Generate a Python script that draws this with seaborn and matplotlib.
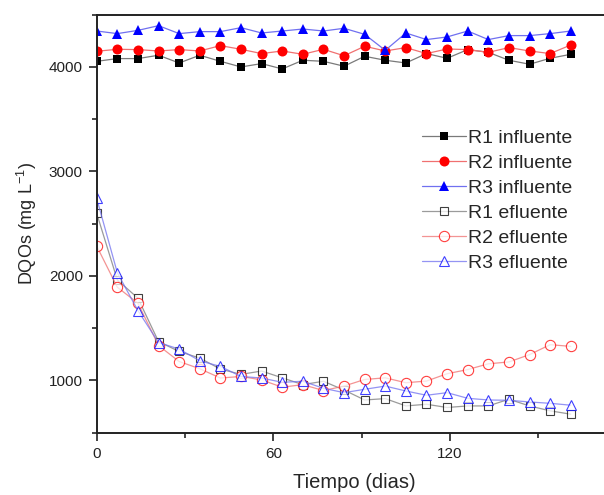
import matplotlib
matplotlib.use("Agg")
import matplotlib.pyplot as plt
from matplotlib.ticker import MultipleLocator
import numpy as np
import pandas as pd
import seaborn as sns

# Sampling days (weekly)
dias = [0, 7, 14, 21, 28, 35, 42, 49, 56, 63, 70, 77, 84, 91, 98, 105,
        112, 119, 126, 133, 140, 147, 154, 161]

# Influent COD (mg/L)
r1_influente = [4054, 4080, 4080, 4112, 4038, 4112, 4054, 4000, 4032, 3981, 4064, 4054,
                4007, 4102, 4064, 4038, 4128, 4083, 4166, 4140, 4064, 4026, 4083, 4121]
r2_influente = [4150, 4169, 4166, 4153, 4166, 4153, 4204, 4169, 4128, 4153, 4121, 4169,
                4107, 4198, 4153, 4185, 4128, 4172, 4166, 4140, 4185, 4153, 4128, 4210]
r3_influente = [4344, 4319, 4350, 4395, 4319, 4338, 4338, 4376, 4325, 4344, 4363, 4344,
                4370, 4312, 4159, 4325, 4262, 4287, 4344, 4262, 4300, 4300, 4319, 4344]

# Effluent COD (mg/L)
r1_efluente = [2599, 1962, 1787, 1372, 1277, 1214, 1109, 1058, 1090, 1025, 960, 992,
               908, 813, 826, 756, 772, 741, 756, 756, 820, 756, 709, 677]
r2_efluente = [2286, 1892, 1739, 1334, 1181, 1112, 1023, 1038, 1005, 935, 960, 903,
               946, 1009, 1025, 978, 994, 1064, 1104, 1159, 1177, 1247, 1342, 1326]
r3_efluente = [2742, 2031, 1668, 1363, 1300, 1188, 1134, 1038, 1023, 982, 992, 925,
               883, 915, 946, 899, 858, 883, 829, 813, 810, 794, 781, 763]

series = [
    ("R1 influente", r1_influente, "#000000", "s", True, 5.8),
    ("R2 influente", r2_influente, "#ff0000", "o", True, 7.2),
    ("R3 influente", r3_influente, "#0000ff", "^", True, 7.6),
    ("R1 efluente", r1_efluente, "#000000", "s", False, 6.4),
    ("R2 efluente", r2_efluente, "#ff0000", "o", False, 7.4),
    ("R3 efluente", r3_efluente, "#0000ff", "^", False, 7.8),
]

sns.set_style("ticks")
plt.rcParams["font.family"] = ["Liberation Sans", "DejaVu Sans"]

fig = plt.figure(figsize=(6.04, 4.95), dpi=100)
ax = fig.add_axes([0.1601, 0.1259, 0.8531, 0.8444])

line_colors = {"#000000": "#7a7a7a", "#ff0000": "#f07070", "#0000ff": "#7070f0"}

for label, vals, color, marker, filled, ms in series:
    df = pd.DataFrame({"dia": dias, "dqo": vals})
    sns.lineplot(data=df, x="dia", y="dqo", ax=ax, label=label,
                 color=line_colors[color], linewidth=0.9,
                 marker=marker, markersize=ms,
                 markerfacecolor=color if filled else "white",
                 markeredgecolor=color, markeredgewidth=0.0 if filled else 0.8,
                 alpha=1.0 if filled else 0.75)

ax.set_xlim(0, 175)
ax.set_ylim(500, 4500)
ax.xaxis.set_major_locator(MultipleLocator(60))
ax.xaxis.set_minor_locator(MultipleLocator(30))
ax.yaxis.set_major_locator(MultipleLocator(1000))
ax.yaxis.set_minor_locator(MultipleLocator(500))

ax.tick_params(which="major", direction="out", length=6, width=1.2,
               labelsize=11, pad=4, colors="#222222")
ax.tick_params(which="minor", direction="out", length=3.5, width=1.2)
for s in ax.spines.values():
    s.set_linewidth(1.4)
    s.set_color("#222222")

ax.set_xlabel("Tiempo (dias)", fontsize=14.5, labelpad=9)
ax.set_ylabel(r"DQOs (mg L$^{\mathregular{-1}}$)", fontsize=13, labelpad=7)

leg = ax.legend(loc="upper left", bbox_to_anchor=(0.6163, 0.745), frameon=False,
                fontsize=14, handlelength=2.26, handletextpad=0.1,
                labelspacing=0.38, borderaxespad=0.0)

fig.savefig("out.png", dpi=100)
